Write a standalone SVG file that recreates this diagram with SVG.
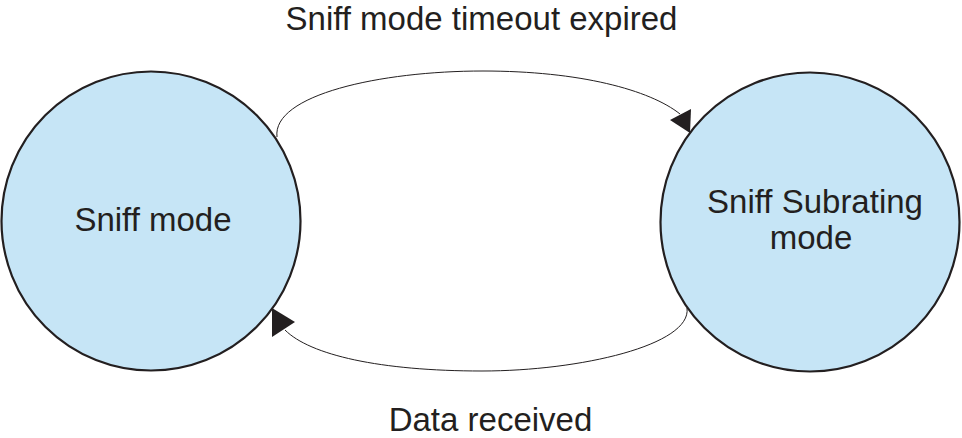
<svg xmlns="http://www.w3.org/2000/svg" width="962" height="438" viewBox="0 0 962 438">
  <style>
    .node { fill: #c6e5f6; stroke: #231f20; stroke-width: 2.2; }
    .lbl { font-family: "Liberation Sans", Arial, sans-serif; font-size: 33px; fill: #231f20; text-anchor: middle; }
    .edge { fill: none; stroke: #231f20; stroke-width: 1; }
    .head { fill: #231f20; stroke: none; }
  </style>
  <rect width="962" height="438" fill="#ffffff"/>
  <g id="node-sniff">
    <circle class="node" cx="151" cy="221" r="149.5"/>
    <text class="lbl" x="153" y="231">Sniff mode</text>
  </g>
  <g id="node-subrating">
    <circle class="node" cx="810" cy="222" r="149.5"/>
    <text class="lbl" x="815" y="213">Sniff Subrating</text>
    <text class="lbl" x="811" y="249">mode</text>
  </g>
  <g id="connectors">
    <path class="edge" d="M277,137 C272,95 380,71 483,71 C580,71 650,90 680,114"/>
    <polygon class="head" points="670,120 691,109 690,133"/>
    <path class="edge" d="M687,308 C692,345 580,371 482,371 C380,371 310,355 285,330"/>
    <polygon class="head" points="272,308 272,337 295,322"/>
  </g>
  <g id="edge-labels">
    <text class="lbl" x="481.5" y="30">Sniff mode timeout expired</text>
    <text class="lbl" x="490.5" y="431">Data received</text>
  </g>
</svg>
